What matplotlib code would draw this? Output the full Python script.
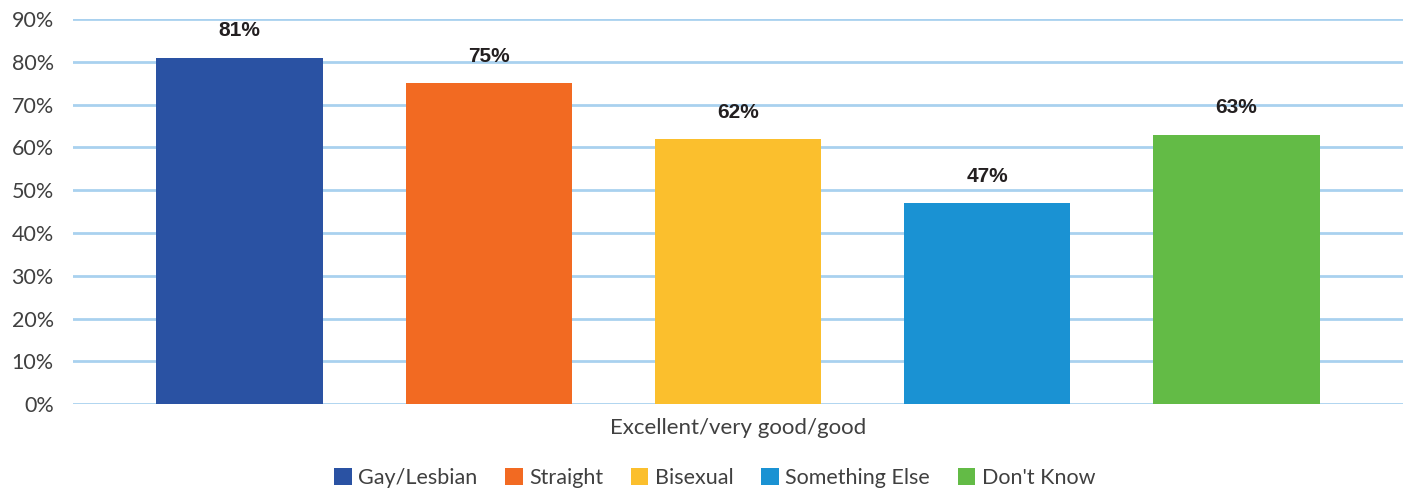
import matplotlib.pyplot as plt
import numpy as np

categories = ["Gay/Lesbian", "Straight", "Bisexual", "Something Else", "Don't Know"]
values = [81, 75, 62, 47, 63]
colors = ["#2a52a3", "#f26a22", "#fbbf2d", "#1a92d3", "#63bb46"]
group_label = "Excellent/very good/good"
yticks = list(range(0, 100, 10))

plt.rcParams['font.family'] = ['Lato', 'DejaVu Sans']

fig = plt.figure(figsize=(14.07, 4.93), dpi=100)
ax = fig.add_axes([0.052, 0.18, 0.945, 0.7815])

x = np.arange(len(values))
bars = ax.bar(x, values, width=0.667, color=colors, label=categories, zorder=3)

for b, v in zip(bars, values):
    ax.text(b.get_x() + b.get_width() / 2, v + 4.0, f"{v}%", ha='center', va='bottom',
            fontsize=15, fontweight='bold', color='#231f20', family=['Liberation Sans'])

ax.set_xlim(-0.667, len(values) - 1 + 0.667)
ax.set_ylim(0, 90)
ax.set_yticks(yticks)
ax.set_yticklabels([f"{t}%" for t in yticks], fontsize=15.5, color='#404040')
ax.set_xticks([])
ax.grid(axis='y', color='#a9d1ef', linewidth=2, zorder=0)
ax.tick_params(axis='y', length=0, pad=14)
for s in ax.spines.values():
    s.set_visible(False)

ax.set_xlabel(group_label, fontsize=16, color='#404040', labelpad=10)

fig.legend(handles=bars, labels=categories, loc='center', bbox_to_anchor=(0.508, 0.03),
           ncol=5, frameon=False, fontsize=15.5, handlelength=0.8, handleheight=0.8,
           handletextpad=0.3, columnspacing=1.3, labelcolor='#404040')

fig.savefig("out.png", dpi=100)
